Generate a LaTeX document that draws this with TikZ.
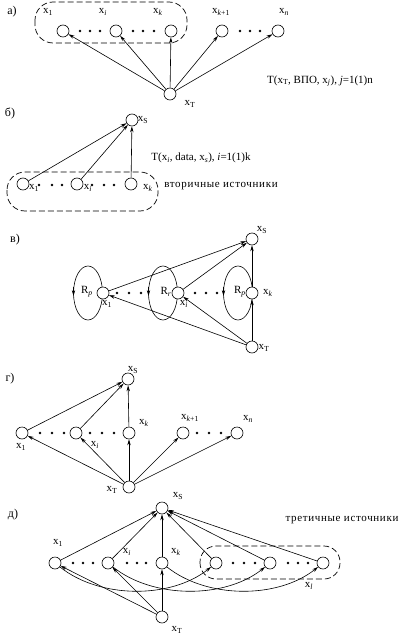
\documentclass[tikz,border=0pt]{standalone}
\usepackage{fontspec}
\setmainfont{Liberation Serif}
\usetikzlibrary{arrows.meta}
\newcommand{\xs}[1]{x\textsubscript{#1}}
\newcommand{\xsi}[1]{x\textsubscript{\textit{#1}}}
\begin{document}
\begin{tikzpicture}[x=1pt,y=-1pt,
  every node/.style={font=\fontsize{11}{13}\selectfont},
  vtx/.style={circle,draw,fill=white,minimum size=12pt,inner sep=0pt,line width=0.6pt},
  pt/.style={circle,fill,inner sep=0pt,minimum size=2.6pt},
  lbl/.style={inner sep=0pt},
  wide/.style={inner sep=0pt,font=\fontsize{11}{13}\selectfont\addfontfeature{LetterSpace=6}},
  plbl/.style={inner sep=0pt,font=\fontsize{12}{14}\selectfont},
  arr/.style={line width=0.6pt,-{Stealth[length=6pt,width=3.4pt]}},
  pill/.style={line width=0.7pt,rounded corners=18pt,dash pattern=on 6pt off 3pt},
  ell/.style={line width=0.6pt}
]
\useasboundingbox (0,0) rectangle (404,637);

% ---------- a) ----------
\node[plbl] (la) at (12,12) {а)};
\draw[pill] (35,2) rectangle (187,43);
\node[vtx] (a1) at (63,31) {};
\node[vtx] (ai) at (116,31) {};
\node[vtx] (ak) at (171,31) {};
\node[vtx] (ak1) at (222,31) {};
\node[vtx] (an) at (278,31) {};
\node[vtx] (aT) at (170,94) {};
\node[lbl] (ta1) at (48,12) {\xs{1}};
\node[lbl] (tai) at (103,12) {\xsi{i}};
\node[lbl] (tak) at (158,12) {\xsi{k}};
\node[lbl] (tak1) at (221,12) {x\textsubscript{\textit{k}+1}};
\node[lbl] (tan) at (284,12) {\xsi{n}};
\node[lbl] (taT) at (190,104) {\xs{T}};
\foreach \x/\n in {80/1,90/2,100/3,133/4,143/5,154/6,240/7,250/8,260/9}
  \node[pt] (ap\n) at (\x,31) {};
\foreach \t in {a1,ai,ak,ak1,an} \draw[arr] (aT) -- (\t);
\node[lbl] (fa) at (320,81) {T(x\textsubscript{T}, ВПО, x\textsubscript{\textit{j}}), \textit{j}=1(1)n};

% ---------- b) ----------
\node[plbl] (lb) at (10,113) {б)};
\draw[pill] (7,172) rectangle (158,211);
\node[vtx] (bS) at (132,120) {};
\node[vtx] (b1) at (23,184) {};
\node[vtx] (bi) at (77,184) {};
\node[vtx] (bk) at (131,184) {};
\node[lbl] (tbS) at (143,120) {\xs{S}};
\node[lbl] (tb1) at (34,188) {\xs{1}};
\node[lbl] (tbi) at (88,188) {\xsi{i}};
\node[lbl] (tbk) at (148,188) {\xsi{k}};
\foreach \x/\n in {39/1,52/2,62/3,92/4,104/5,114/6}
  \node[pt] (bp\n) at (\x,185) {};
\foreach \t in {b1,bi,bk} \draw[arr] (\t) -- (bS);
\node[lbl] (fb) at (201,158) {T(x\textsubscript{\textit{i}}, data, x\textsubscript{\textit{s}}), \textit{i}=1(1)k};
\node[wide] (vb) at (221,186) {вторичные источники};

% ---------- v) ----------
\node[plbl] (lv) at (15,240) {в)};
\foreach \cx/\n in {88/1,163/2,238/3}{
  \draw[ell] (\cx,293) ellipse [x radius=14.5, y radius=27];
  \coordinate (eu\n) at (\cx-14.5,287);
  \coordinate (ed\n) at (\cx-14.5,296);
  \draw[arr] (eu\n) -- (ed\n);
}
\node[vtx] (cS) at (252,239) {};
\node[vtx] (c1) at (103,293) {};
\node[vtx] (ci) at (178,293) {};
\node[vtx] (ck) at (252,293) {};
\node[vtx] (cT) at (252,347) {};
\node[lbl] (r1) at (87,292) {R\textsubscript{\textit{p}}};
\node[lbl] (r2) at (166,292) {R\textsubscript{\textit{r}}};
\node[lbl] (r3) at (240,292) {R\textsubscript{\textit{p}}};
\node[lbl] (tcS) at (262,230) {\xs{S}};
\node[lbl] (tc1) at (107,304) {\xs{1}};
\node[lbl] (tci) at (184,304) {\xsi{i}};
\node[lbl] (tck) at (268,293) {\xsi{k}};
\node[lbl] (tcT) at (264,348) {\xs{T}};
\foreach \x/\n in {117/1,129/2,141/3,195/4,206/5,217/6}
  \node[pt] (cp\n) at (\x,293) {};
\foreach \t in {c1,ci,ck} \draw[arr] (\t) -- (cS);
\foreach \t in {c1,ci,ck} \draw[arr] (cT) -- (\t);

% ---------- g) ----------
\node[plbl] (lg) at (10,379) {г)};
\node[vtx] (dS) at (128,379) {};
\node[vtx] (d1) at (22,433) {};
\node[vtx] (di) at (76,433) {};
\node[vtx] (dk) at (129,433) {};
\node[vtx] (dk1) at (183,433) {};
\node[vtx] (dn) at (237,433) {};
\node[vtx] (dT) at (129,487) {};
\node[lbl] (tdS) at (133,370) {\xs{S}};
\node[lbl] (td1) at (21,447) {\xs{1}};
\node[lbl] (tdi) at (95,445) {\xsi{i}};
\node[lbl] (tdk) at (144,423) {\xsi{k}};
\node[lbl] (tdk1) at (190,418) {x\textsubscript{\textit{k}+1}};
\node[lbl] (tdn) at (248,419) {\xsi{n}};
\node[lbl] (tdT) at (112,490) {\xs{T}};
\foreach \x/\n in {40/1,52/2,64/3,90/4,102/5,114/6,197/7,209/8,221/9}
  \node[pt] (dp\n) at (\x,433) {};
\foreach \t in {d1,di,dk} \draw[arr] (\t) -- (dS);
\foreach \t in {d1,di,dk,dk1,dn} \draw[arr] (dT) -- (\t);

% ---------- d) ----------
\node[plbl] (ld) at (13,515) {д)};
\draw[pill,rounded corners=16pt] (200,546) rectangle (340,579);
\node[vtx] (eS) at (162,508) {};
\node[vtx] (e1) at (55,563) {};
\node[vtx] (ei) at (108,563) {};
\node[vtx] (ek) at (162,563) {};
\node[vtx] (e4) at (216,563) {};
\node[vtx] (e5) at (270,563) {};
\node[vtx] (e6) at (323,563) {};
\node[vtx] (eT) at (162,617) {};
\node[lbl] (teS) at (178,496) {\xs{S}};
\node[lbl] (te1) at (58,543) {\xs{1}};
\node[lbl] (tei) at (127,552) {\xsi{i}};
\node[lbl] (tek) at (176,552) {\xsi{k}};
\node[lbl] (tel) at (309,586) {\xsi{l}};
\node[lbl] (teT) at (177,630) {\xs{T}};
\node[wide] (ve) at (342,520) {третичные источники};
\foreach \x/\n in {73/1,83/2,93/3,127/4,137/5,146/6,233/7,244/8,255/9,288/10,298/11,308/12}
  \node[pt] (ep\n) at (\x,563) {};
\foreach \t in {e1,ei,ek,e4,e5,e6} \draw[arr] (\t) -- (eS);
\foreach \t in {e1,ei,ek} \draw[arr] (eT) -- (\t);
\draw[arr] (e1) .. controls +(45,36) and +(-45,36) .. (e4);
\draw[arr] (ei) .. controls +(45,36) and +(-45,36) .. (e5);
\draw[arr] (ek) .. controls +(45,36) and +(-45,36) .. (e6);
\end{tikzpicture}
\end{document}
